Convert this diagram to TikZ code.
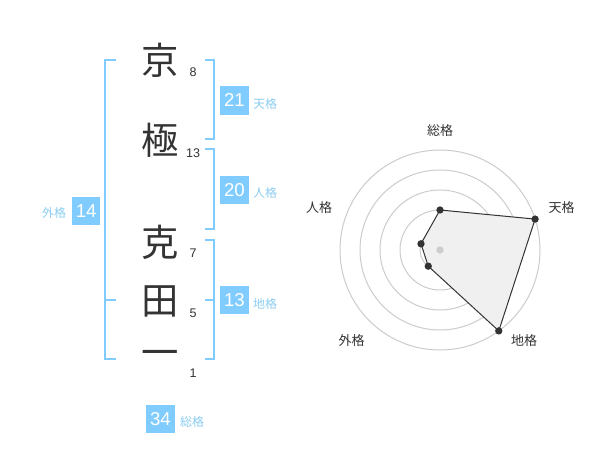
\documentclass[tikz,border=0pt]{standalone}
\usepackage{fontspec}
\setmainfont{Liberation Sans}
\newfontfamily\cjk{Noto Sans CJK JP}
\definecolor{kblue}{HTML}{80CCFF}
\definecolor{klabel}{HTML}{8CCEF2}
\definecolor{kdark}{HTML}{333333}
\definecolor{kring}{HTML}{CCCCCC}
\definecolor{kfill}{HTML}{F0F0F0}
\begin{document}
\begin{tikzpicture}[x=0.75pt,y=-0.75pt,
  kanji/.style={font=\cjk\fontsize{28}{28}\selectfont, text=kdark, inner sep=0pt},
  strokes/.style={font=\fontsize{9.4}{10}\selectfont, text=kdark, inner sep=0pt},
  valbox/.style={fill=kblue, text=white, minimum size=21.4pt, inner sep=0pt, font=\fontsize{14}{14}\selectfont},
  kaku/.style={font=\cjk\fontsize{9}{9}\selectfont, text=klabel, inner sep=0pt},
  bracket/.style={draw=kblue, line width=1.5pt},
  ring/.style={draw=kring, line width=0.75pt},
  poly/.style={draw=kdark, fill=kfill, line width=0.75pt},
  rdot/.style={circle, fill=kdark, inner sep=0pt, minimum size=5.5pt},
  cdot/.style={circle, fill=kring, inner sep=0pt, minimum size=5.5pt},
  rlabel/.style={font=\cjk\fontsize{9.75}{10}\selectfont, text=kdark, inner sep=0pt}]
\useasboundingbox (0,0) rectangle (600,470);
\fill[white] (0,0) rectangle (600,470);

% name characters
\node[kanji] (c1) at (160,60) {京};
\node[kanji] (c2) at (160,140) {極};
\node[kanji] (c3) at (160,242) {克};
\node[kanji] (c4) at (160,301) {田};
\node[kanji] (c5) at (160,358.3) {一};

% stroke counts
\node[strokes] (n1) at (193,72) {8};
\node[strokes] (n2) at (193,153.3) {13};
\node[strokes] (n3) at (193,252.7) {7};
\node[strokes] (n4) at (193,313.3) {5};
\node[strokes] (n5) at (193,372.7) {1};

% brackets
\draw[bracket] (116,60) -- (105,60) -- (105,359.3) -- (116,359.3);
\draw[bracket] (105,300) -- (116,300);
\draw[bracket] (205,60) -- (214.3,60) -- (214.3,139.3) -- (205,139.3);
\draw[bracket] (205,149.3) -- (214.3,149.3) -- (214.3,229) -- (205,229);
\draw[bracket] (205,240) -- (214.3,240) -- (214.3,359.3) -- (205,359.3);
\draw[bracket] (205,300) -- (214.3,300);

% value boxes and labels
\node[valbox] (ten) at (234.5,100.3) {21};
\node[kaku] (tenl) at (265,103.5) {天格};
\node[valbox] (jin) at (234.5,190) {20};
\node[kaku] (jinl) at (265,193.3) {人格};
\node[valbox] (chi) at (234.5,300.2) {13};
\node[kaku] (chil) at (265,303.5) {地格};
\node[valbox] (gai) at (86.2,210.8) {14};
\node[kaku] (gail) at (54,213) {外格};
\node[valbox] (sou) at (160.5,418.8) {34};
\node[kaku] (soul) at (192,422) {総格};

% radar chart
\begin{scope}[shift={(440,250)}]
  \foreach \r in {20,40,60,80,100} \draw[ring] (0,0) circle[radius=\r];
  \coordinate (pS) at (-90:40);
  \coordinate (pT) at (-18:100);
  \coordinate (pC) at (54:100);
  \coordinate (pG) at (126:20);
  \coordinate (pJ) at (198:20);
  \draw[poly] (pS) -- (pT) -- (pC) -- (pG) -- (pJ) -- cycle;
  \node[cdot] (ctr) at (0,0) {};
  \foreach \p in {pS,pT,pC,pG,pJ} \node[rdot] at (\p) {};
\end{scope}
\node[rlabel] (lS) at (440,131) {総格};
\node[rlabel] (lT) at (561.7,208) {天格};
\node[rlabel] (lC) at (524,341) {地格};
\node[rlabel] (lG) at (351.7,341) {外格};
\node[rlabel] (lJ) at (319,208) {人格};
\end{tikzpicture}
\end{document}
